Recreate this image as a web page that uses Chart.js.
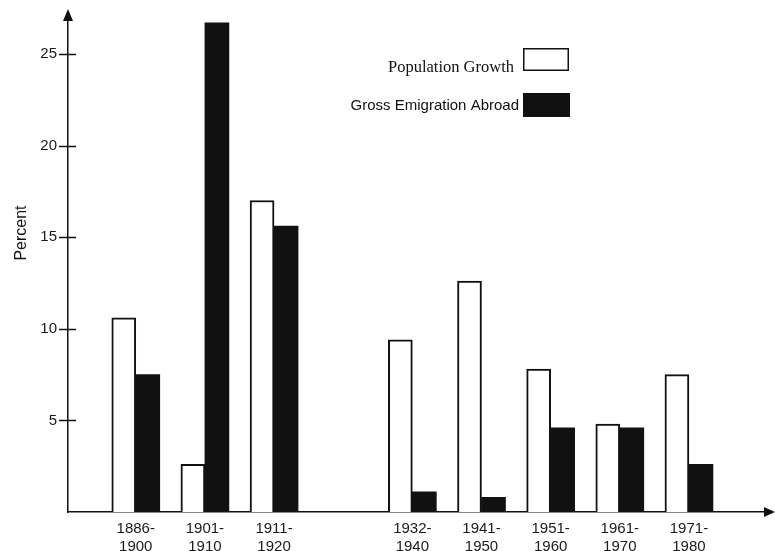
<!DOCTYPE html>
<html>
<head>
<meta charset="utf-8">
<script src="https://cdn.jsdelivr.net/npm/chart.js@4.4.1/dist/chart.umd.min.js"></script>
<style>
  html, body { margin: 0; padding: 0; background: #fff; }
  #wrap { width: 775px; height: 551px; }
</style>
</head>
<body>
<div id="wrap"><canvas id="growthChart" width="775" height="551"></canvas></div>
<script>
// '' marks the 1921-1931 period the source leaves out
const periods = ['1886-1900', '1901-1910', '1911-1920', '', '1932-1940', '1941-1950', '1951-1960', '1961-1970', '1971-1980'];
const populationGrowth = [10.6, 2.6, 17.0, null, 9.4, 12.6, 7.8, 4.8, 7.5];
const grossEmigration = [7.5, 26.7, 15.6, null, 1.1, 0.8, 4.6, 4.6, 2.6];
const yTicks = [5, 10, 15, 20, 25];

const ink = '#111';
const sans = '"Liberation Sans", Arial, sans-serif';
const serif = '"Liberation Serif", "Times New Roman", serif';

function toPoints(values) {
  return values.map((v, i) => ({ x: i, y: v }));
}

// legend sits text-left / box-right, each entry in its own face
const legendLayout = [
  { font: '16.5px ' + serif, textRight: 514, baseline: 72, box: [523, 48, 46, 23] },
  { font: '15px ' + sans, textRight: 519, baseline: 110, box: [523, 93, 47, 24] }
];

const axisExtras = {
  id: 'axisExtras',
  afterDraw(chart) {
    const { ctx, chartArea: a, scales: { y } } = chart;
    ctx.save();
    ctx.fillStyle = ink;
    ctx.strokeStyle = ink;
    ctx.lineWidth = 1.5;

    // arrow heads
    ctx.beginPath();
    ctx.moveTo(a.left, a.top - 11);
    ctx.lineTo(a.left - 5, a.top + 1);
    ctx.lineTo(a.left + 5, a.top + 1);
    ctx.closePath();
    ctx.fill();
    ctx.beginPath();
    ctx.moveTo(a.right + 10, a.bottom);
    ctx.lineTo(a.right - 1, a.bottom - 5);
    ctx.lineTo(a.right - 1, a.bottom + 5);
    ctx.closePath();
    ctx.fill();

    // tick marks cross the axis
    yTicks.forEach((t) => {
      const py = Math.round(y.getPixelForValue(t)) + 0.5;
      ctx.beginPath();
      ctx.moveTo(a.left - 9, py);
      ctx.lineTo(a.left + 8, py);
      ctx.stroke();
    });

    // axis title
    ctx.save();
    ctx.font = '16px ' + sans;
    ctx.textAlign = 'center';
    ctx.textBaseline = 'middle';
    ctx.translate(22, 233);
    ctx.rotate(-Math.PI / 2);
    ctx.fillText('Percent', 0, 0);
    ctx.restore();

    // legend
    chart.data.datasets.forEach((ds, i) => {
      const l = legendLayout[i];
      ctx.font = l.font;
      ctx.textAlign = 'right';
      ctx.textBaseline = 'alphabetic';
      ctx.fillStyle = ink;
      ctx.fillText(ds.label, l.textRight, l.baseline);
      const [bx, by, bw, bh] = l.box;
      ctx.fillStyle = ds.backgroundColor;
      ctx.fillRect(bx, by, bw, bh);
      ctx.strokeRect(bx + 0.75, by + 0.75, bw - 1.5, bh - 1.5);
    });
    ctx.restore();
  }
};

function initGrowthChart() {
  const canvas = document.querySelector('#growthChart');
  if (!canvas || !window.Chart) return;

  Chart.defaults.font.family = sans;
  Chart.defaults.color = '#1a1a1a';

  return new Chart(canvas, {
    type: 'bar',
    data: {
      datasets: [
        { label: 'Population Growth', data: toPoints(populationGrowth), backgroundColor: '#fff', borderColor: ink, borderWidth: 2, barThickness: 24 },
        { label: 'Gross Emigration Abroad', data: toPoints(grossEmigration), backgroundColor: ink, borderColor: ink, borderWidth: 0, barThickness: 24 }
      ]
    },
    options: {
      responsive: false,
      animation: false,
      layout: { padding: { top: 20, right: 10, left: 0, bottom: 0 } },
      plugins: { legend: { display: false }, tooltip: { enabled: false } },
      scales: {
        x: {
          type: 'linear',
          offset: false,
          min: -0.98,
          max: 9.1,
          grid: { display: false, drawTicks: false, offset: false },
          border: { display: true, color: ink, width: 1.5 },
          afterBuildTicks: (scale) => {
            scale.ticks = periods.map((p, i) => ({ value: i })).filter((t) => periods[t.value]);
          },
          afterFit: (scale) => {
            scale.height = 39;
            scale.paddingLeft = 0;
            scale.paddingRight = 0;
          },
          ticks: {
            autoSkip: false,
            maxRotation: 0,
            padding: 8,
            font: { size: 15 },
            callback: (value) => {
              const [from, to] = periods[value].split('-');
              return [from + '-', to];
            }
          }
        },
        y: {
          min: 0,
          max: 26.85,
          grid: { display: false, drawTicks: false },
          border: { display: true, color: ink, width: 1.5 },
          afterBuildTicks: (scale) => {
            scale.ticks = yTicks.map((v) => ({ value: v }));
          },
          afterFit: (scale) => {
            scale.width = 68;
            scale.paddingTop = 0;
            scale.paddingBottom = 0;
          },
          ticks: { padding: 11, font: { size: 15 } }
        }
      }
    },
    plugins: [axisExtras]
  });
}

initGrowthChart();
</script>
</body>
</html>
